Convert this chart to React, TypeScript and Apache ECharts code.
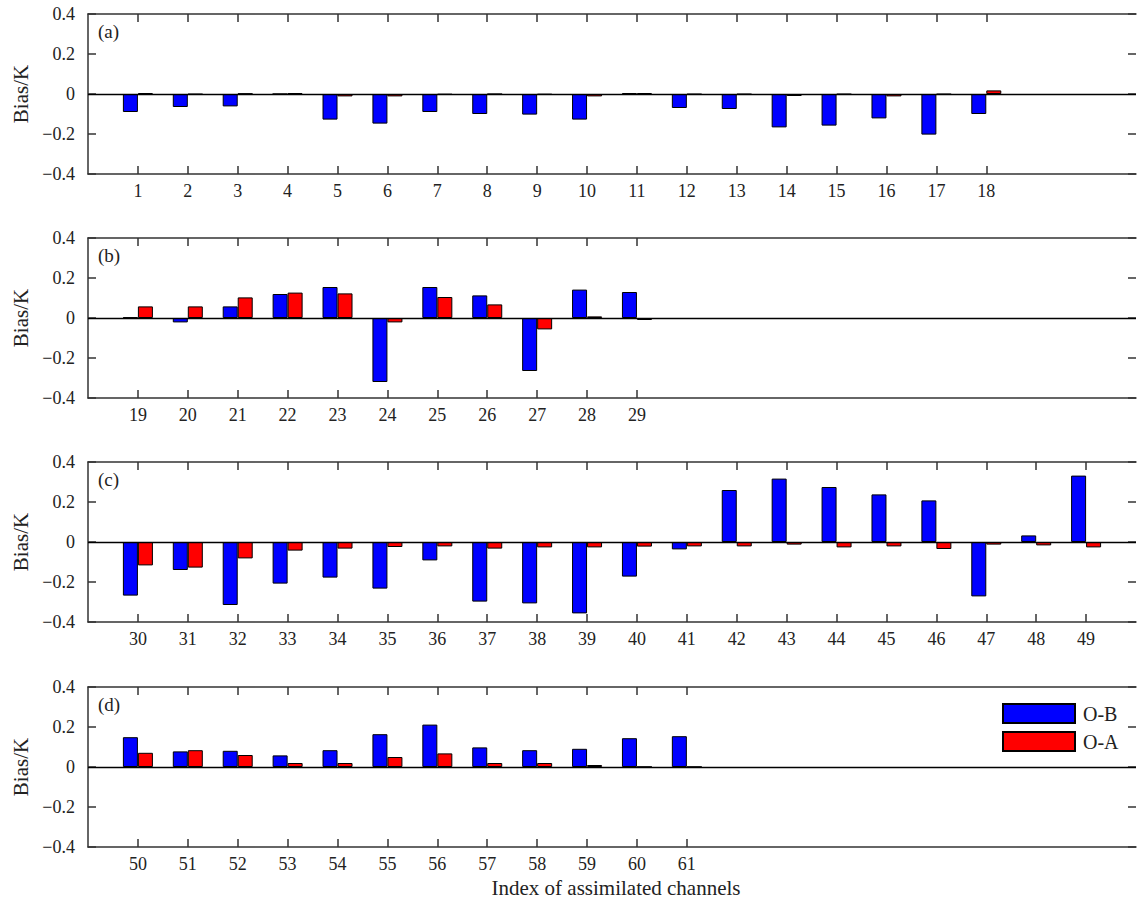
import React, { useEffect, useRef } from 'react';
import * as echarts from 'echarts';

// ---- Data ----
const CHANNELS_A = [1, 2, 3, 4, 5, 6, 7, 8, 9, 10, 11, 12, 13, 14, 15, 16, 17, 18];
const OB_A = [-0.09, -0.065, -0.062, 0, -0.128, -0.148, -0.09, -0.1, -0.103, -0.128, 0.005, -0.07, -0.075, -0.167, -0.158, -0.122, -0.203, -0.1];
const OA_A = [0.005, -0.002, 0.002, 0.005, -0.012, -0.012, -0.003, -0.001, -0.003, -0.012, 0.005, -0.002, -0.002, -0.01, -0.002, -0.012, -0.002, 0.018];

const CHANNELS_B = [19, 20, 21, 22, 23, 24, 25, 26, 27, 28, 29];
const OB_B = [0.003, -0.022, 0.058, 0.12, 0.155, -0.32, 0.155, 0.113, -0.265, 0.142, 0.13];
const OA_B = [0.058, 0.058, 0.103, 0.127, 0.123, -0.022, 0.105, 0.068, -0.057, 0.008, -0.01];

const CHANNELS_C = [30, 31, 32, 33, 34, 35, 36, 37, 38, 39, 40, 41, 42, 43, 44, 45, 46, 47, 48, 49];
const OB_C = [-0.268, -0.14, -0.315, -0.208, -0.178, -0.233, -0.092, -0.298, -0.307, -0.357, -0.173, -0.037, 0.26, 0.317, 0.275, 0.238, 0.208, -0.272, 0.033, 0.332];
const OA_C = [-0.117, -0.128, -0.082, -0.043, -0.033, -0.025, -0.022, -0.033, -0.027, -0.027, -0.023, -0.022, -0.022, -0.013, -0.027, -0.022, -0.035, -0.013, -0.017, -0.027];

const CHANNELS_D = [50, 51, 52, 53, 54, 55, 56, 57, 58, 59, 60, 61];
const OB_D = [0.149, 0.078, 0.081, 0.058, 0.084, 0.164, 0.212, 0.098, 0.084, 0.091, 0.144, 0.154];
const OA_D = [0.071, 0.084, 0.06, 0.02, 0.02, 0.05, 0.068, 0.02, 0.02, 0.01, 0.001, 0.001];

const PANEL_LABELS = ['(a)', '(b)', '(c)', '(d)'];
const SERIES_NAMES = ['O-B', 'O-A'];
const Y_MIN = -0.4;
const Y_MAX = 0.4;
const Y_STEP = 0.2;
const X_TITLE = 'Index of assimilated channels';
const Y_TITLE = 'Bias/K';

const PANELS = [
  { channels: CHANNELS_A, ob: OB_A, oa: OA_A },
  { channels: CHANNELS_B, ob: OB_B, oa: OA_B },
  { channels: CHANNELS_C, ob: OB_C, oa: OA_C },
  { channels: CHANNELS_D, ob: OB_D, oa: OA_D },
];

// ---- Layout / style ----
const SLOTS = 22;
const GRID_LEFT = 88;
const GRID_WIDTH = 1054;
const GRID_HEIGHT = 160;
const GRID_TOPS = [14, 238, 462, 687];
const FONT = '"Liberation Serif", "Times New Roman", serif';
const TEXT = '#222';
const FRAME = '#333';

function fmtY(v: number) {
  if (Math.abs(v) < 1e-9) return '0';
  return (v < 0 ? '\u2212' : '') + Math.abs(v).toFixed(1);
}

function buildOption() {
  const grid: any[] = [];
  const xAxis: any[] = [];
  const yAxis: any[] = [];
  const series: any[] = [];
  const graphic: any[] = [];

  PANELS.forEach((p, i) => {
    const cats: string[] = [''].concat(p.channels.map(String));
    while (cats.length < SLOTS) cats.push('');
    const pad = (vals: number[]) => {
      const arr: (number | null)[] = [null].concat(vals as any);
      while (arr.length < SLOTS) arr.push(null);
      return arr;
    };

    grid.push({ left: GRID_LEFT, top: GRID_TOPS[i], width: GRID_WIDTH, height: GRID_HEIGHT, containLabel: false });

    const tickInterval = (_idx: number, val: string) => val !== '';
    const common = {
      type: 'category',
      gridIndex: i,
      data: cats,
      boundaryGap: false,
      axisLine: { show: true, onZero: false, lineStyle: { color: FRAME, width: 1.5 } },
      axisTick: { show: true, inside: true, length: 8, interval: tickInterval, lineStyle: { color: FRAME, width: 1.5 } },
      splitLine: { show: false },
    };
    xAxis.push({
      ...common,
      position: 'bottom',
      axisLabel: { show: true, interval: 0, margin: 8, fontFamily: FONT, fontSize: 18, color: TEXT },
    });
    xAxis.push({
      ...common,
      position: 'top',
      axisLabel: { show: false },
    });

    const ycommon = {
      type: 'value',
      gridIndex: i,
      min: Y_MIN,
      max: Y_MAX,
      interval: Y_STEP,
      axisTick: { show: true, inside: true, length: 8, lineStyle: { color: FRAME, width: 1.5 } },
      splitLine: { show: false },
    };
    yAxis.push({
      ...ycommon,
      position: 'left',
      axisLine: { show: true, onZero: false, lineStyle: { color: FRAME, width: 1.5 } },
      axisLabel: { show: true, margin: 13, fontFamily: FONT, fontSize: 18, color: TEXT, formatter: fmtY },
      name: Y_TITLE,
      nameLocation: 'middle',
      nameGap: 57,
      nameRotate: 90,
      nameTextStyle: { fontFamily: FONT, fontSize: 21, color: TEXT },
    });
    yAxis.push({
      ...ycommon,
      position: 'right',
      axisLine: { show: false, onZero: false },
      axisLabel: { show: false },
    });

    series.push({
      type: 'bar',
      name: SERIES_NAMES[0],
      xAxisIndex: 2 * i,
      yAxisIndex: 2 * i,
      data: pad(p.ob),
      barWidth: 15,
      barGap: '0%',
      itemStyle: { color: '#0000ff', borderColor: '#000', borderWidth: 1 },
      markLine: {
        silent: true,
        symbol: 'none',
        label: { show: false },
        lineStyle: { color: '#000', width: 1.4, type: 'solid' },
        data: [{ yAxis: 0 }],
      },
    });
    series.push({
      type: 'bar',
      name: SERIES_NAMES[1],
      xAxisIndex: 2 * i,
      yAxisIndex: 2 * i,
      data: pad(p.oa),
      barWidth: 15,
      barGap: '0%',
      itemStyle: { color: '#ff0000', borderColor: '#000', borderWidth: 1 },
    });

    graphic.push({
      type: 'text',
      x: 98,
      y: GRID_TOPS[i] + 8,
      style: { text: PANEL_LABELS[i], font: `19px ${FONT}`, fill: TEXT },
    });
  });

  graphic.push({
    type: 'text',
    x: 616,
    y: 888,
    style: { text: X_TITLE, font: `21px ${FONT}`, fill: TEXT, textAlign: 'center', textVerticalAlign: 'middle' },
  });

  return {
    animation: false,
    backgroundColor: '#fff',
    grid,
    xAxis,
    yAxis,
    series,
    graphic,
    legend: {
      data: SERIES_NAMES,
      orient: 'vertical',
      left: 1002,
      top: 703,
      itemWidth: 72,
      itemHeight: 19,
      itemGap: 7,
      icon: 'rect',
      selectedMode: false,
      padding: 0,
      textStyle: { fontFamily: FONT, fontSize: 20, color: TEXT, padding: [0, 0, 0, 3] },
    },
  };
}

export default function App() {
  const ref = useRef<HTMLDivElement>(null);
  useEffect(() => {
    if (!ref.current) return;
    const chart = echarts.init(ref.current, undefined, { renderer: 'svg' });
    chart.setOption(buildOption() as any);
    return () => chart.dispose();
  }, []);
  return (
    <div
      ref={ref}
      style={{ position: 'absolute', left: 0, top: 0, width: 1139, height: 899, overflow: 'hidden' }}
    />
  );
}
